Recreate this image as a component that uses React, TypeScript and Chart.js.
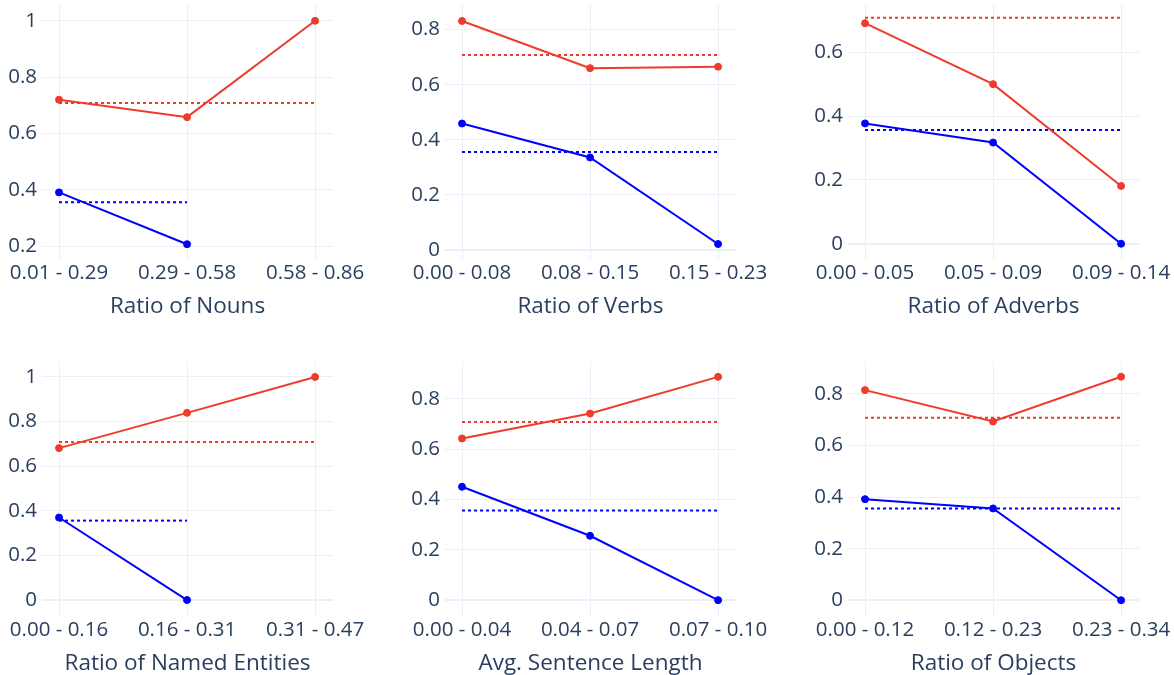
import React, { useEffect, useRef } from "react";
import { Chart, registerables } from "chart.js";

Chart.register(...registerables);

const RED = "#ef3b2c";
const BLUE = "#0000ff";
const GRID = "#ebf0f8";
const TEXT = "#2a3f5f";
const FONT = "'Open Sans', 'Noto Sans', sans-serif";

// Panel 1: Ratio of Nouns
const nounsLabels = ["0.01 - 0.29", "0.29 - 0.58", "0.58 - 0.86"];
const nounsRed = [0.72, 0.658, 1.0];
const nounsBlue = [0.391, 0.207, null];
const nounsRedAvg = [0.708, 0.708, 0.708];
const nounsBlueAvg = [0.356, 0.356, null];
const nounsYTicks = [0.2, 0.4, 0.6, 0.8, 1];

// Panel 2: Ratio of Verbs
const verbsLabels = ["0.00 - 0.08", "0.08 - 0.15", "0.15 - 0.23"];
const verbsRed = [0.831, 0.66, 0.665];
const verbsBlue = [0.459, 0.336, 0.022];
const verbsRedAvg = [0.708, 0.708, 0.708];
const verbsBlueAvg = [0.356, 0.356, 0.356];
const verbsYTicks = [0, 0.2, 0.4, 0.6, 0.8];

// Panel 3: Ratio of Adverbs
const adverbsLabels = ["0.00 - 0.05", "0.05 - 0.09", "0.09 - 0.14"];
const adverbsRed = [0.691, 0.5, 0.181];
const adverbsBlue = [0.377, 0.317, 0.0];
const adverbsRedAvg = [0.708, 0.708, 0.708];
const adverbsBlueAvg = [0.356, 0.356, 0.356];
const adverbsYTicks = [0, 0.2, 0.4, 0.6];

// Panel 4: Ratio of Named Entities
const entitiesLabels = ["0.00 - 0.16", "0.16 - 0.31", "0.31 - 0.47"];
const entitiesRed = [0.681, 0.839, 1.0];
const entitiesBlue = [0.37, 0.0, null];
const entitiesRedAvg = [0.708, 0.708, 0.708];
const entitiesBlueAvg = [0.356, 0.356, null];
const entitiesYTicks = [0, 0.2, 0.4, 0.6, 0.8, 1];

// Panel 5: Avg. Sentence Length
const sentenceLabels = ["0.00 - 0.04", "0.04 - 0.07", "0.07 - 0.10"];
const sentenceRed = [0.643, 0.742, 0.888];
const sentenceBlue = [0.451, 0.256, 0.0];
const sentenceRedAvg = [0.708, 0.708, 0.708];
const sentenceBlueAvg = [0.356, 0.356, 0.356];
const sentenceYTicks = [0, 0.2, 0.4, 0.6, 0.8];

// Panel 6: Ratio of Objects
const objectsLabels = ["0.00 - 0.12", "0.12 - 0.23", "0.23 - 0.34"];
const objectsRed = [0.815, 0.693, 0.867];
const objectsBlue = [0.392, 0.356, 0.0];
const objectsRedAvg = [0.708, 0.708, 0.708];
const objectsBlueAvg = [0.356, 0.356, 0.356];
const objectsYTicks = [0, 0.2, 0.4, 0.6, 0.8];

const titles = [
  "Ratio of Nouns",
  "Ratio of Verbs",
  "Ratio of Adverbs",
  "Ratio of Named Entities",
  "Avg. Sentence Length",
  "Ratio of Objects",
];

const panels = [
  { title: titles[0], labels: nounsLabels, red: nounsRed, blue: nounsBlue, redAvg: nounsRedAvg, blueAvg: nounsBlueAvg, yTicks: nounsYTicks, yMin: 0.151, yMax: 1.056 },
  { title: titles[1], labels: verbsLabels, red: verbsRed, blue: verbsBlue, redAvg: verbsRedAvg, blueAvg: verbsBlueAvg, yTicks: verbsYTicks, yMin: -0.036, yMax: 0.889 },
  { title: titles[2], labels: adverbsLabels, red: adverbsRed, blue: adverbsBlue, redAvg: adverbsRedAvg, blueAvg: adverbsBlueAvg, yTicks: adverbsYTicks, yMin: -0.051, yMax: 0.748 },
  { title: titles[3], labels: entitiesLabels, red: entitiesRed, blue: entitiesBlue, redAvg: entitiesRedAvg, blueAvg: entitiesBlueAvg, yTicks: entitiesYTicks, yMin: -0.076, yMax: 1.067 },
  { title: titles[4], labels: sentenceLabels, red: sentenceRed, blue: sentenceBlue, redAvg: sentenceRedAvg, blueAvg: sentenceBlueAvg, yTicks: sentenceYTicks, yMin: -0.067, yMax: 0.947 },
  { title: titles[5], labels: objectsLabels, red: objectsRed, blue: objectsBlue, redAvg: objectsRedAvg, blueAvg: objectsBlueAvg, yTicks: objectsYTicks, yMin: -0.065, yMax: 0.924 },
];

const CANVAS_W = 370;
const CANVAS_H = 320;

const toXY = (arr: (number | null)[]) => arr.map((y, i) => ({ x: i, y }));

function Panel({ p, left, top }: { p: any; left: number; top: number }) {
  const ref = useRef<HTMLCanvasElement | null>(null);
  useEffect(() => {
    if (!ref.current) return;
    const solid = (data: any, color: string) => ({
      data: toXY(data),
      borderColor: color,
      backgroundColor: color,
      pointBackgroundColor: color,
      pointBorderColor: color,
      borderWidth: 2,
      pointRadius: 3.5,
      pointBorderWidth: 1,
      spanGaps: false,
    });
    const dotted = (data: any, color: string) => ({
      data: toXY(data),
      borderColor: color,
      backgroundColor: color,
      borderWidth: 2,
      borderDash: [3, 3],
      pointRadius: 0,
      spanGaps: false,
    });
    const chart = new Chart(ref.current, {
      type: "line",
      data: {
        datasets: [
          solid(p.red, RED),
          solid(p.blue, BLUE),
          dotted(p.redAvg, RED),
          dotted(p.blueAvg, BLUE),
        ] as any,
      },
      options: {
        animation: false,
        responsive: false,
        events: [],
        layout: { padding: { left: 0, right: 37, top: 3, bottom: 0 } },
        plugins: { legend: { display: false }, tooltip: { enabled: false } },
        scales: {
          x: {
            type: "linear",
            min: -0.133,
            max: 2.14,
            afterBuildTicks: (s: any) => {
              s.ticks = p.labels.map((_: string, i: number) => ({ value: i }));
            },
            afterFit: (s: any) => {
              s.height = 60;
              s.paddingLeft = 0;
              s.paddingRight = 0;
            },
            ticks: {
              callback: (v: any) => p.labels[v],
              font: { family: FONT, size: 20.5 },
              color: TEXT,
              padding: 1,
              maxRotation: 0,
              autoSkip: false,
            },
            grid: { color: GRID, drawTicks: false, lineWidth: 1 },
            border: { display: false },
            title: {
              display: true,
              text: p.title,
              font: { family: FONT, size: 22.5 },
              color: TEXT,
              padding: { top: 0, bottom: 0 },
            },
          },
          y: {
            type: "linear",
            min: p.yMin,
            max: p.yMax,
            afterBuildTicks: (s: any) => {
              s.ticks = p.yTicks.map((v: number) => ({ value: v }));
            },
            afterFit: (s: any) => {
              s.width = 42;
              s.paddingTop = 0;
              s.paddingBottom = 0;
            },
            ticks: {
              callback: (v: any) => String(Number(Number(v).toFixed(1))),
              font: { family: FONT, size: 20.5 },
              color: TEXT,
              padding: 5,
            },
            grid: {
              color: GRID,
              drawTicks: false,
              lineWidth: (ctx: any) => (ctx.tick && ctx.tick.value === 0 ? 2 : 1),
            },
            border: { display: false },
          },
        },
      } as any,
    });
    return () => chart.destroy();
  }, []);
  return (
    <canvas
      ref={ref}
      width={CANVAS_W}
      height={CANVAS_H}
      style={{ position: "absolute", left, top, display: "block", width: CANVAS_W, height: CANVAS_H }}
    />
  );
}

export default function App() {
  return (
    <div
      style={{
        position: "absolute",
        left: 0,
        top: 0,
        width: 1174,
        height: 675,
        overflow: "hidden",
        background: "#ffffff",
      }}
    >
      {panels.map((p, i) => (
        <Panel key={i} p={p} left={(i % 3) * 403} top={Math.floor(i / 3) * 357} />
      ))}
    </div>
  );
}
